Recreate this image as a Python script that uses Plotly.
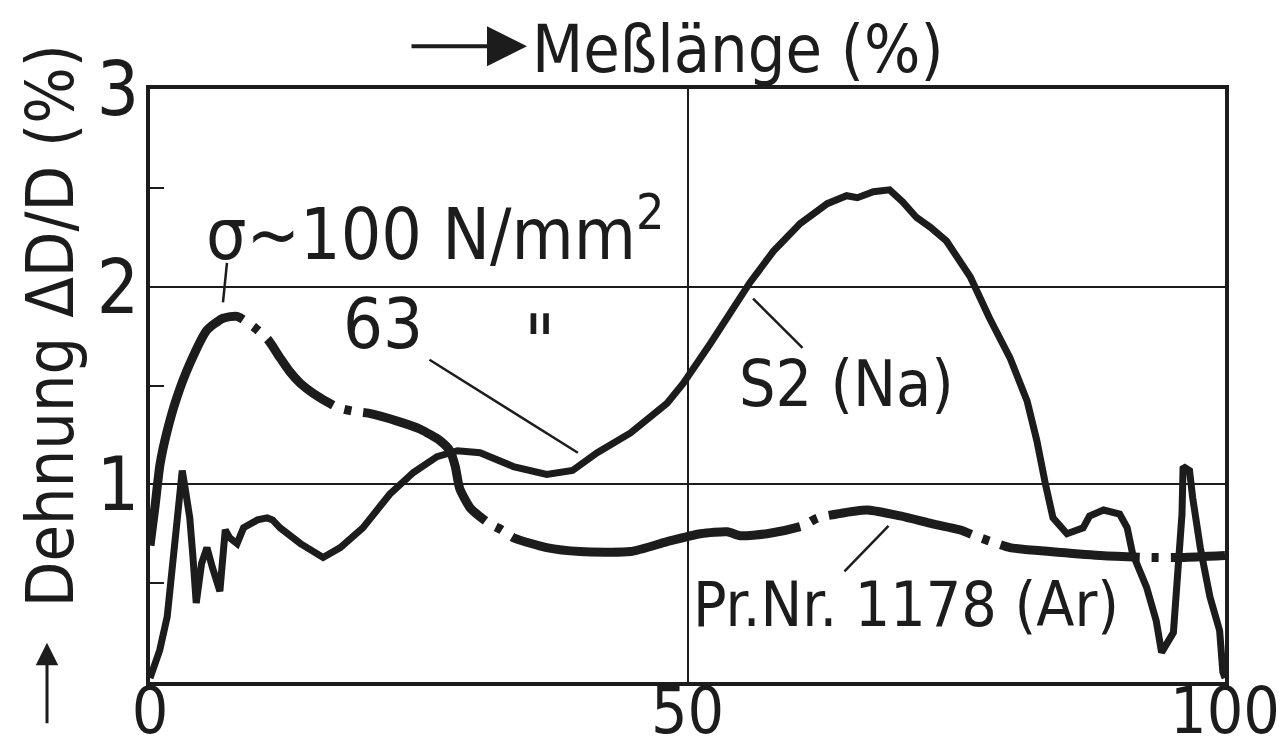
import plotly.graph_objects as go

# S2 (Na), 63 N/mm2 - solid curve
na_x = [0, 0.9, 1.6, 2.0, 2.3, 2.6, 2.8, 3.0, 3.3, 3.7, 4.0, 4.3, 4.8, 5.3, 5.8, 6.5,
        7.0, 7.4, 8.1, 8.7, 10.0, 10.9, 11.4, 12.1, 14.0, 16.1, 17.7, 19.8, 22.3, 24.5,
        26.7, 28.6, 30.7, 33.8, 36.9, 39.3, 41.6, 44.7, 48.1, 49.6, 52.1, 54.2, 55.8,
        58.0, 60.5, 63.0, 64.8, 65.8, 67.3, 68.8, 70.0, 71.3, 72.6, 74.1, 75.3, 76.3,
        78.1, 80.0, 81.6, 82.5, 83.3, 84.0, 85.3, 86.8, 87.4, 88.7, 90.2, 90.9, 91.4,
        92.7, 93.6, 94.1, 95.2, 95.6, 96.0, 96.1, 96.7, 97.0, 97.7, 98.6, 99.5, 99.8, 100]
na_y = [0.02, 0.16, 0.33, 0.55, 0.72, 0.88, 1.04, 1.07, 0.97, 0.83, 0.63, 0.40, 0.60, 0.68,
        0.58, 0.46, 0.77, 0.73, 0.70, 0.78, 0.82, 0.83, 0.82, 0.78, 0.70, 0.63, 0.68, 0.78,
        0.95, 1.06, 1.14, 1.17, 1.16, 1.09, 1.05, 1.07, 1.16, 1.26, 1.41, 1.51, 1.71, 1.89,
        2.02, 2.18, 2.32, 2.42, 2.46, 2.45, 2.48, 2.49, 2.43, 2.35, 2.30, 2.23, 2.13, 2.05,
        1.84, 1.64, 1.42, 1.22, 1.00, 0.83, 0.75, 0.78, 0.84, 0.87, 0.85, 0.78, 0.65, 0.48,
        0.31, 0.15, 0.25, 0.51, 0.85, 1.09, 1.07, 0.93, 0.68, 0.43, 0.26, 0.05, 0.02]

# Pr.Nr. 1178 (Ar), 100 N/mm2 - dash-dot curve
ar_x = [0, 0.47, 0.93, 1.6, 2.5, 3.7, 5.3, 6.8, 8.1, 9.8, 11.0, 12.1, 13.0, 14.0, 15.2,
        17.4, 18.9, 20.3, 23.0, 25.1, 27.0, 27.9, 28.4, 28.8, 29.8, 31.6, 32.7, 33.8,
        36.9, 40.0, 44.7, 48.1, 51.2, 53.7, 54.9, 57.4, 60.7, 62.1, 63.9, 66.7, 69.8,
        72.8, 75.3, 77.2, 78.8, 80.0, 83.7, 88.4, 93.0, 96.0, 100]
ar_y = [0.69, 0.89, 1.10, 1.27, 1.44, 1.61, 1.78, 1.84, 1.85, 1.79, 1.73, 1.64, 1.57, 1.51,
        1.46, 1.39, 1.37, 1.36, 1.32, 1.28, 1.22, 1.17, 1.09, 0.98, 0.88, 0.80, 0.77, 0.73,
        0.68, 0.66, 0.66, 0.71, 0.75, 0.76, 0.74, 0.75, 0.79, 0.83, 0.85, 0.87, 0.84, 0.80,
        0.77, 0.73, 0.70, 0.68, 0.66, 0.64, 0.63, 0.63, 0.64]

x_ticks = [0, 50, 100]
y_ticks = [1, 2, 3]
y_minor = [0.5, 1.5, 2.5]

# text labels: (text, x, y, size) in data units
labels = [
    ("σ~100 N/mm<sup>2</sup>", 5.0, 2.29, 71),
    ("63", 17.8, 1.81, 70),
    ("\"", 34.6, 1.72, 76),
    ("S2 (Na)", 54.6, 1.51, 64),
    ("Pr.Nr. 1178 (Ar)", 50.3, 0.39, 62),
]
# leader lines: (x_text_end, y_text_end, x_curve, y_curve)
leaders = [
    (7.16, 2.12, 6.79, 1.92),
    (26.0, 1.63, 39.8, 1.16),
    (56.1, 1.94, 60.7, 1.69),
    (64.6, 0.56, 68.7, 0.79),
]

FONT = "Liberation Sans Narrow, DejaVu Sans Condensed, Arial Narrow, sans-serif"
INK = "#1c1c1c"

fig = go.Figure()

fig.add_trace(go.Scatter(
    x=na_x, y=na_y, mode="lines",
    line=dict(color=INK, width=7),
))
fig.add_trace(go.Scatter(
    x=ar_x, y=ar_y, mode="lines",
    line=dict(color=INK, width=9, shape="spline", smoothing=0.6,
              dash="266px,12px,7px,12px,95px,12px,7px,12px,178px,12px,7px,12px,"
                   "294px,12px,7px,12px,146px,12px,7px,12px,140px,12px,7px,12px,200px"),
))

for text, x, y, size in labels:
    fig.add_annotation(x=x, y=y, text=text, showarrow=False, xanchor="left",
                       yanchor="middle", font=dict(family=FONT, size=size, color=INK))

for x0, y0, x1, y1 in leaders:
    fig.add_shape(type="line", x0=x0, y0=y0, x1=x1, y1=y1,
                  line=dict(color=INK, width=2.5))

# axis titles with their arrows
fig.add_annotation(xref="paper", yref="paper", x=0.3535, y=1.066, text="Meßlänge (%)",
                   showarrow=False, xanchor="left", yanchor="middle",
                   font=dict(family=FONT, size=66, color=INK))
fig.add_annotation(xref="paper", yref="paper", x=0.3507, y=1.072, ax=-117, ay=0,
                   text="", showarrow=True, arrowhead=2, arrowsize=2.0, arrowwidth=4,
                   arrowcolor=INK)
fig.add_annotation(xref="paper", yref="paper", x=-0.093, y=0.60, text="Dehnung ΔD/D (%)",
                   textangle=-90, showarrow=False, xanchor="center", yanchor="middle",
                   font=dict(family=FONT, size=66, color=INK))
fig.add_annotation(xref="paper", yref="paper", x=-0.0958, y=0.066, ax=0, ay=82,
                   text="", showarrow=True, arrowhead=2, arrowsize=1.5, arrowwidth=3,
                   arrowcolor=INK)

fig.update_xaxes(
    range=[0, 100], tickvals=x_ticks, ticks="", showgrid=True, gridcolor=INK, gridwidth=2,
    showline=True, linewidth=4, linecolor=INK, mirror=True, zeroline=False,
    tickfont=dict(family=FONT, size=64, color=INK), automargin=False,
    ticklabeloverflow="allow", ticklabelstandoff=-30,
)
fig.update_yaxes(
    range=[0, 3], tickvals=y_ticks, ticks="", showgrid=True, gridcolor=INK, gridwidth=2,
    showline=True, linewidth=4, linecolor=INK, mirror=True, zeroline=False,
    tickfont=dict(family=FONT, size=74, color=INK), ticklabelstandoff=-8,
    automargin=False, ticklabeloverflow="allow",
    minor=dict(tickvals=y_minor, ticks="inside", ticklen=14, tickwidth=2, tickcolor=INK,
               showgrid=False),
)

# page body adds ~8px, so the figure is a bit smaller than the window
fig.update_layout(
    width=1279, height=744,
    margin=dict(l=142, r=62, t=81, b=70),
    paper_bgcolor="white", plot_bgcolor="white",
    showlegend=False,
)

fig.write_html("out.html")
